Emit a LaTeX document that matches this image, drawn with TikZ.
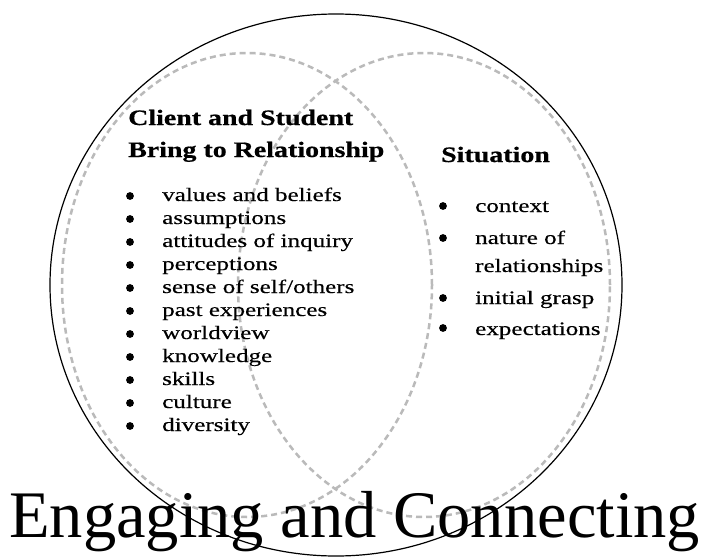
\documentclass[tikz,border=0pt]{standalone}
\usepackage{fontspec}
\setmainfont{Liberation Serif}
\newfontfamily\listfont[FakeStretch=1.32,FakeBold=0.4]{Liberation Serif}
\newfontfamily\headfont[FakeStretch=1.27,FakeBold=0.6]{Liberation Serif Bold}
\begin{document}
\begin{tikzpicture}[x=1pt,y=-1pt,
  dashring/.style={draw=black!27, line width=2.5pt, dash pattern=on 6pt off 4pt},
  outerring/.style={draw=black, line width=1.2pt},
  headtxt/.style={anchor=base west, inner sep=0pt, font=\headfont\fontsize{22}{22}\selectfont},
  itemtxt/.style={anchor=base west, inner sep=0pt, font=\listfont\fontsize{19}{19}\selectfont},
  dot/.style={circle, fill=black, inner sep=0pt, minimum size=7.8pt},
  titletxt/.style={anchor=base west, inner sep=0pt, font=\fontsize{66.5}{66.5}\selectfont}]
\useasboundingbox (0,0) rectangle (702,557);
\fill[white] (0,0) rectangle (702,557);
% rings
\draw[dashring] (247,285) ellipse [x radius=185pt, y radius=232pt];
\draw[dashring] (424,285) ellipse [x radius=186pt, y radius=232pt];
\draw[outerring] (336,285) ellipse [x radius=286pt, y radius=271pt];
% left heading
\node[headtxt] (h1) at (128,125) {Client and Student};
\node[headtxt] (h2) at (128,157) {Bring to Relationship};
% left list
\foreach \t [count=\i from 0] in {values and beliefs, assumptions, attitudes of inquiry, perceptions, sense of self/others, past experiences, worldview, knowledge, skills, culture, diversity}{
  \node[dot] (lb\i) at (130,{196+23*\i}) {};
  \node[itemtxt] (li\i) at (162,{201+23*\i}) {\t};
}
% right heading
\node[headtxt] (h3) at (441,162) {Situation};
% right list
\node[dot] (rb1) at (443,206) {};
\node[itemtxt] (ri1) at (475,212) {context};
\node[dot] (rb2) at (443,238) {};
\node[itemtxt] (ri2) at (475,244) {nature of};
\node[itemtxt] (ri2b) at (475,272) {relationships};
\node[dot] (rb3) at (443,298) {};
\node[itemtxt] (ri3) at (475,304) {initial grasp};
\node[dot] (rb4) at (443,328) {};
\node[itemtxt] (ri4) at (475,335) {expectations};
% title
\node[titletxt] (title) at (9,537) {Engaging and Connecting};
\end{tikzpicture}
\end{document}
